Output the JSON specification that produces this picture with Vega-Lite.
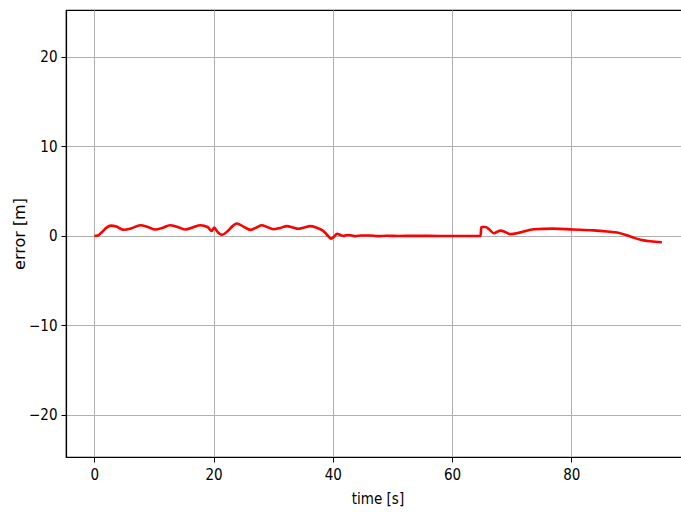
{
  "$schema": "https://vega.github.io/schema/vega-lite/v6.json",
  "autosize": {"type": "none"},
  "padding": {"left": 66, "top": 10, "right": 0, "bottom": 55},
  "width": 623,
  "height": 447,
  "background": "white",
  "config": {
    "view": {"stroke": "black", "strokeWidth": 1.2},
    "axis": {
      "domainColor": "black",
      "domainWidth": 1.2,
      "tickColor": "black",
      "tickSize": 5,
      "tickWidth": 1,
      "gridColor": "#b0b0b0",
      "gridWidth": 1,
      "labelFont": "DejaVu Sans Condensed",
      "labelFontSize": 15,
      "labelColor": "black",
      "titleFont": "DejaVu Sans Condensed",
      "titleFontSize": 15,
      "titleFontWeight": "normal",
      "titleColor": "black"
    }
  },
  "data": {
    "values": [
      {"t": 0, "err": 0},
      {"t": 0.6, "err": 0.05},
      {"t": 1.3, "err": 0.45},
      {"t": 2.0, "err": 0.9},
      {"t": 2.8, "err": 1.15},
      {"t": 3.7, "err": 1.05},
      {"t": 4.9, "err": 0.7},
      {"t": 6.2, "err": 0.85},
      {"t": 7.7, "err": 1.2},
      {"t": 9.0, "err": 1.0},
      {"t": 10.2, "err": 0.72},
      {"t": 11.4, "err": 0.9},
      {"t": 12.7, "err": 1.2},
      {"t": 14.0, "err": 1.0},
      {"t": 15.3, "err": 0.72},
      {"t": 16.5, "err": 0.95},
      {"t": 17.8, "err": 1.2},
      {"t": 19.0, "err": 1.0},
      {"t": 19.7, "err": 0.55},
      {"t": 20.1, "err": 0.95},
      {"t": 20.6, "err": 0.5},
      {"t": 21.4, "err": 0.12},
      {"t": 22.3, "err": 0.5},
      {"t": 23.2, "err": 1.1},
      {"t": 23.9, "err": 1.4},
      {"t": 25.0, "err": 1.05},
      {"t": 26.2, "err": 0.68},
      {"t": 27.2, "err": 0.95},
      {"t": 28.1, "err": 1.2},
      {"t": 29.0, "err": 1.0},
      {"t": 30.0, "err": 0.75},
      {"t": 31.2, "err": 0.9},
      {"t": 32.3, "err": 1.1},
      {"t": 33.3, "err": 0.95},
      {"t": 34.2, "err": 0.8},
      {"t": 35.2, "err": 0.95},
      {"t": 36.2, "err": 1.1},
      {"t": 37.2, "err": 0.95},
      {"t": 37.9, "err": 0.75},
      {"t": 38.6, "err": 0.45},
      {"t": 39.2, "err": 0.0},
      {"t": 39.7, "err": -0.3},
      {"t": 40.2, "err": -0.1},
      {"t": 40.7, "err": 0.25},
      {"t": 41.3, "err": 0.1},
      {"t": 41.8, "err": 0.0},
      {"t": 42.4, "err": 0.1},
      {"t": 43.0, "err": 0.08},
      {"t": 43.8, "err": -0.02},
      {"t": 44.8, "err": 0.05},
      {"t": 46.3, "err": 0.05},
      {"t": 47.5, "err": -0.02},
      {"t": 49.0, "err": 0.02},
      {"t": 51.0, "err": 0.0},
      {"t": 54.0, "err": 0.01},
      {"t": 58.0, "err": 0.0},
      {"t": 62.0, "err": 0.0},
      {"t": 64.8, "err": 0.0},
      {"t": 64.9, "err": 1.0},
      {"t": 65.6, "err": 1.0},
      {"t": 66.3, "err": 0.7},
      {"t": 67.0, "err": 0.3},
      {"t": 68.1, "err": 0.6},
      {"t": 68.9, "err": 0.45},
      {"t": 69.8, "err": 0.2},
      {"t": 71.5, "err": 0.4},
      {"t": 73.7, "err": 0.75},
      {"t": 77.0, "err": 0.82},
      {"t": 80.3, "err": 0.72},
      {"t": 83.7, "err": 0.62},
      {"t": 86.0, "err": 0.5},
      {"t": 87.7, "err": 0.38},
      {"t": 89.2, "err": 0.1},
      {"t": 90.4, "err": -0.18},
      {"t": 91.8, "err": -0.45},
      {"t": 93.3, "err": -0.6},
      {"t": 95.2, "err": -0.7}
    ]
  },
  "mark": {"type": "line", "color": "#ff0000", "strokeWidth": 2.6, "interpolate": "monotone", "clip": true},
  "encoding": {
    "x": {
      "field": "t",
      "type": "quantitative",
      "scale": {"domain": [-4.75, 99.75], "nice": false, "zero": false},
      "axis": {"values": [0, 20, 40, 60, 80, 100], "title": "time [s]", "titlePadding": 9, "labelPadding": 5}
    },
    "y": {
      "field": "err",
      "type": "quantitative",
      "scale": {"domain": [-24.7, 25.25], "nice": false, "zero": false},
      "axis": {"values": [-20, -10, 0, 10, 20], "title": "error [m]", "titleFont": "DejaVu Sans", "titleFontSize": 16, "titlePadding": 1, "labelPadding": 4}
    }
  }
}
